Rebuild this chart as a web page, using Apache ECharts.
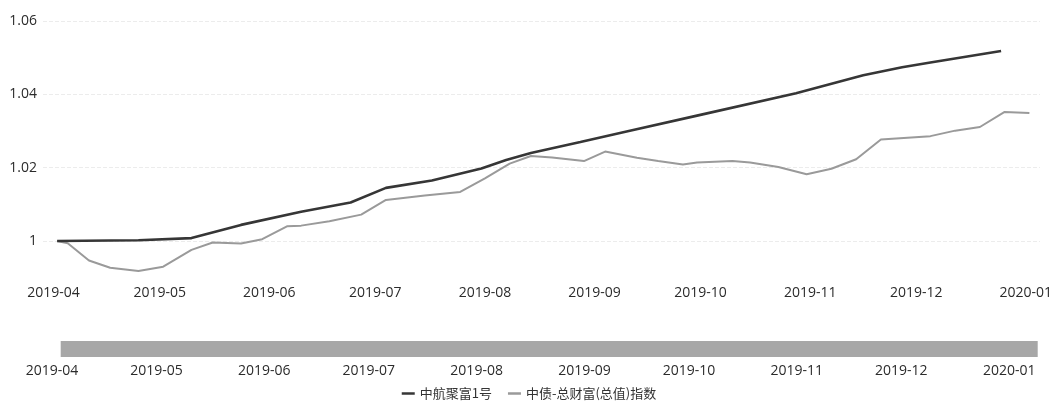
<!DOCTYPE html>
<html>
<head>
<meta charset="utf-8">
<script src="https://cdn.jsdelivr.net/npm/echarts@6/dist/echarts.min.js"></script>
<style>
html,body{margin:0;padding:0;background:#fff;}
#chart{width:1058px;height:403px;}
</style>
</head>
<body>
<div id="chart"></div>
<script>
// ---- data ----
const seriesNames = ['中航聚富1号', '中债-总财富(总值)指数'];

const fundDates = ['2019-04-02','2019-04-25','2019-05-10','2019-05-24','2019-06-10','2019-06-24',
  '2019-07-04','2019-07-17','2019-07-31','2019-08-07','2019-08-14','2019-08-28','2019-09-11',
  '2019-09-30','2019-10-28','2019-11-16','2019-11-27','2019-12-05','2019-12-25'];
const fundValues = [1.0000,1.0002,1.0008,1.0044,1.0080,1.0105,
  1.0145,1.0165,1.0198,1.0221,1.0240,1.0270,1.0301,
  1.0342,1.0403,1.0452,1.0474,1.0487,1.0518];

const indexDates = ['2019-04-02','2019-04-05','2019-04-11','2019-04-17','2019-04-25','2019-05-02',
  '2019-05-10','2019-05-16','2019-05-24','2019-05-30','2019-06-06','2019-06-10','2019-06-18',
  '2019-06-27','2019-07-04','2019-07-15','2019-07-25','2019-08-01','2019-08-08','2019-08-14',
  '2019-08-20','2019-08-29','2019-09-04','2019-09-13','2019-09-19','2019-09-26','2019-09-30',
  '2019-10-10','2019-10-15','2019-10-23','2019-10-31','2019-11-07','2019-11-14','2019-11-21',
  '2019-12-05','2019-12-12','2019-12-19','2019-12-26','2020-01-02'];
const indexValues = [1.0000,0.9994,0.9947,0.9927,0.9918,0.9930,
  0.9976,0.9996,0.9993,1.0005,1.0040,1.0042,1.0054,
  1.0072,1.0112,1.0124,1.0134,1.0171,1.0211,1.0232,
  1.0228,1.0218,1.0244,1.0227,1.0218,1.0209,1.0214,
  1.0218,1.0214,1.0202,1.0182,1.0197,1.0223,1.0277,
  1.0286,1.0301,1.0311,1.0352,1.0349];

const yTickValues = [1.00, 1.02, 1.04, 1.06];
const monthLabelFormat = '{yyyy}-{MM}';

// ---- chart ----
const pair = (ds, vs) => ds.map((d, i) => [d, vs[i]]);
const DAY = 86400000;
const fmtMonth = v => echarts.time.format(v, monthLabelFormat, false);
const labelFont = { fontFamily: '"Open Sans", "Noto Sans", sans-serif', fontSize: 14, color: '#2b2b2b' };

const chart = echarts.init(document.getElementById('chart'), null, { renderer: 'canvas' });
chart.setOption({
  animation: false,
  backgroundColor: '#ffffff',
  grid: [
    { left: 43, right: 18, top: 21, bottom: 125.3 },
    { left: 52, right: 21, top: 342, height: 16 }
  ],
  legend: {
    top: 382,
    left: 'center',
    data: seriesNames,
    icon: 'rect',
    itemWidth: 13,
    itemHeight: 2.5,
    itemGap: 16,
    textStyle: { fontFamily: '"Noto Sans CJK SC", sans-serif', fontSize: 13, color: '#333' }
  },
  xAxis: [
    {
      type: 'time', gridIndex: 0,
      min: '2019-03-29', max: '2020-01-05',
      splitNumber: 10, minInterval: 28 * DAY, maxInterval: 31 * DAY,
      axisLine: { show: false }, axisTick: { show: false }, splitLine: { show: false },
      axisLabel: Object.assign({ margin: 8, showMinLabel: false, showMaxLabel: false,
        formatter: fmtMonth }, labelFont)
    },
    {
      type: 'time', gridIndex: 1,
      min: '2019-04-01', max: '2020-01-09',
      splitNumber: 10, minInterval: 28 * DAY, maxInterval: 31 * DAY,
      axisLine: { show: false }, axisTick: { show: false }, splitLine: { show: false },
      axisLabel: Object.assign({ margin: 6, showMinLabel: true, showMaxLabel: false,
        formatter: fmtMonth }, labelFont)
    }
  ],
  yAxis: [
    {
      type: 'value', gridIndex: 0,
      min: 0.99, max: 1.06, interval: 0.01,
      axisLine: { show: false }, axisTick: { show: false },
      splitLine: { show: true, lineStyle: { type: 'dashed', width: 1,
        color: ['rgba(0,0,0,0)', '#ececec'] } },
      axisLabel: Object.assign({ margin: 6, formatter: v => {
        const r = Math.round(v * 100) / 100;
        return yTickValues.some(t => Math.abs(t - r) < 1e-9) ? String(parseFloat(r.toFixed(2))) : '';
      } }, labelFont)
    },
    { type: 'value', gridIndex: 1, show: false, min: 0, max: 1 }
  ],
  dataZoom: [{
    type: 'slider', xAxisIndex: 0, filterMode: 'none',
    left: 60, right: 21, top: 341, height: 16,
    start: 0, end: 100,
    showDataShadow: false, showDetail: false, brushSelect: false,
    backgroundColor: 'rgba(0,0,0,0)', borderColor: 'rgba(0,0,0,0)',
    fillerColor: '#a7a7a7',
    handleSize: 0, handleStyle: { opacity: 0 },
    moveHandleSize: 0, moveHandleStyle: { opacity: 0 },
    emphasis: { handleStyle: { opacity: 0 }, moveHandleStyle: { opacity: 0 } },
    zoomLock: true
  }],
  series: [
    {
      name: seriesNames[0], type: 'line', xAxisIndex: 0, yAxisIndex: 0,
      data: pair(fundDates, fundValues),
      showSymbol: false, symbol: 'none',
      lineStyle: { color: '#363636', width: 2.6 }, itemStyle: { color: '#363636' }, z: 3
    },
    {
      name: seriesNames[1], type: 'line', xAxisIndex: 0, yAxisIndex: 0,
      data: pair(indexDates, indexValues),
      showSymbol: false, symbol: 'none',
      lineStyle: { color: '#9a9a9a', width: 2 }, itemStyle: { color: '#9a9a9a' }, z: 2
    }
  ]
});
</script>
</body>
</html>
